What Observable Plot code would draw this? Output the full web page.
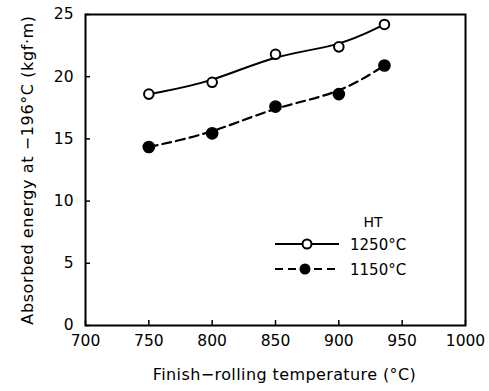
<!DOCTYPE html>
<html>
<head>
<meta charset="utf-8">
<script src="https://cdn.jsdelivr.net/npm/d3@7"></script>
<script src="https://cdn.jsdelivr.net/npm/@observablehq/plot@0.6"></script>
<style>
  html, body { margin: 0; padding: 0; background: #fff; }
  #wrap { position: relative; width: 489px; height: 391px; }
</style>
</head>
<body>
<div id="wrap"></div>
<script>
const temps = [750, 800, 850, 900, 936];
const ht1250 = [18.6, 19.55, 21.8, 22.4, 24.2];
const ht1150 = [14.35, 15.45, 17.6, 18.6, 20.9];
const seriesNames = ["1250°C", "1150°C"];
const xTicks = [700, 750, 800, 850, 900, 950, 1000];
const yTicks = [0, 5, 10, 15, 20, 25];
const xTitle = "Finish\u2212rolling temperature (°C)";
const yTitle = "Absorbed energy at \u2212196°C (kgf·m)";
const font = "DejaVu Sans, Liberation Sans, sans-serif";

const rows = [
  ...temps.map((t, i) => ({x: t, y: ht1250[i], s: seriesNames[0]})),
  ...temps.map((t, i) => ({x: t, y: ht1150[i], s: seriesNames[1]}))
];
const open = rows.filter(d => d.s === seriesNames[0]);
const filled = rows.filter(d => d.s === seriesNames[1]);

const chart = Plot.plot({
  width: 489,
  height: 391,
  marginLeft: 85,
  marginRight: 24,
  marginTop: 14,
  marginBottom: 66,
  style: {fontSize: "15.5px", fontFamily: font, color: "#000"},
  x: {domain: [700, 1000], ticks: xTicks, tickFormat: d => String(d), label: null},
  y: {domain: [0, 25], ticks: yTicks, tickFormat: d => String(d), label: null},
  marks: [
    Plot.frame({stroke: "#000", strokeWidth: 2}),
    Plot.axisX({ticks: xTicks, tickFormat: d => String(d), tickSize: -5, tickPadding: 14, strokeWidth: 1.5, label: null}),
    Plot.axisY({ticks: yTicks, tickFormat: d => String(d), tickSize: -5, tickPadding: 17, strokeWidth: 1.5, label: null}),
    Plot.text([xTitle], {text: d => d, frameAnchor: "bottom", textAnchor: "middle", dy: 54, dx: 9, fontSize: 16, className: "xtitle"}),
    Plot.text([yTitle], {text: d => d, frameAnchor: "left", textAnchor: "middle", rotate: -90, dx: -58, fontSize: 16, className: "ytitle"}),
    Plot.line(open, {x: "x", y: "y", curve: "basis", stroke: "#000", strokeWidth: 2}),
    Plot.line(filled, {x: "x", y: "y", curve: "basis", stroke: "#000", strokeWidth: 2.2, strokeDasharray: "9,5"}),
    Plot.dot(open, {x: "x", y: "y", r: 4.8, fill: "#fff", stroke: "#000", strokeWidth: 2}),
    Plot.dot(filled, {x: "x", y: "y", r: 5.6, fill: "#000", stroke: "#000"})
  ]
});
const wrap = document.getElementById("wrap");
wrap.appendChild(chart);

const svg = d3.select(chart);
svg.selectAll(".xtitle text").attr("letter-spacing", "0.4px");
svg.selectAll(".ytitle text").attr("letter-spacing", "0.6px");

// legend overlay
const lg = svg.append("g").attr("font-family", font).attr("font-size", 15).attr("text-anchor", "start");
lg.append("text").attr("x", 373).attr("y", 227).attr("text-anchor", "middle").attr("font-size", 14).text("HT");
lg.append("line").attr("x1", 275).attr("x2", 339).attr("y1", 244).attr("y2", 244).attr("stroke", "#000").attr("stroke-width", 2);
lg.append("circle").attr("cx", 307).attr("cy", 244).attr("r", 4.5).attr("fill", "#fff").attr("stroke", "#000").attr("stroke-width", 2);
lg.append("text").attr("x", 350).attr("y", 249.5).text(seriesNames[0]);
lg.append("line").attr("x1", 275).attr("x2", 339).attr("y1", 269).attr("y2", 269).attr("stroke", "#000").attr("stroke-width", 2.2).attr("stroke-dasharray", "8,5");
lg.append("circle").attr("cx", 305).attr("cy", 269).attr("r", 5.5).attr("fill", "#000");
lg.append("text").attr("x", 350).attr("y", 274.5).text(seriesNames[1]);
</script>
</body>
</html>
